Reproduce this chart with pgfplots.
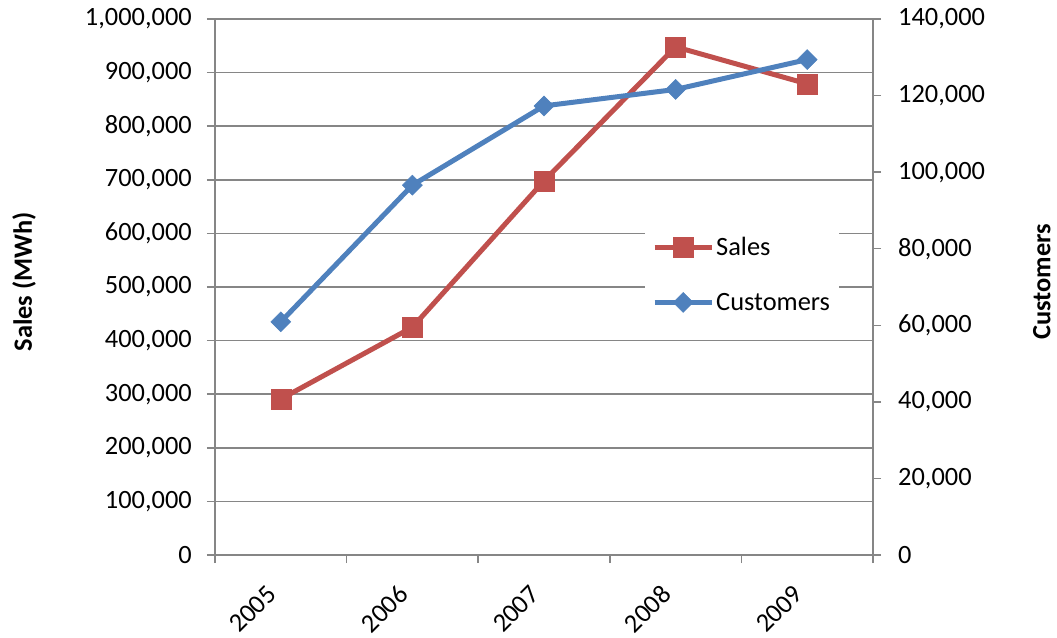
\documentclass[border=0pt]{standalone}
\usepackage{fontspec}
\setmainfont{Carlito}
\usepackage{pgfplots}
\pgfplotsset{compat=1.18}
\definecolor{salesred}{RGB}{192,80,77}
\definecolor{custblue}{RGB}{79,129,189}
\definecolor{gridgray}{RGB}{134,134,134}
\pgfdeclareplotmark{rdiamond}{%
  \pgfpathmoveto{\pgfqpoint{-\pgfplotmarksize}{0pt}}%
  \pgfpathlineto{\pgfqpoint{0pt}{\pgfplotmarksize}}%
  \pgfpathlineto{\pgfqpoint{\pgfplotmarksize}{0pt}}%
  \pgfpathlineto{\pgfqpoint{0pt}{-\pgfplotmarksize}}%
  \pgfpathclose
  \pgfusepathqfillstroke}
\newcommand{\chartfont}{\fontsize{26.4}{32}\selectfont}
\pgfplotsset{
  common/.style={
    width=658pt, height=536pt, scale only axis,
    xmin=0.5, xmax=5.5,
    axis line style={gridgray, line width=1.5pt},
    tick style={gridgray, line width=1.5pt},
    tick align=outside, major tick length=8pt,
    ticklabel style={font=\chartfont},
    label style={font=\chartfont\bfseries},
    scaled y ticks=false,
    yticklabel style={/pgf/number format/fixed, /pgf/number format/1000 sep={,}, /pgf/number format/assume math mode=true},
  },
  salesstyle/.style={salesred, line width=5pt, mark=square*, mark size=10pt,
    mark options={solid, fill=salesred, draw=salesred, line width=0.5pt}},
  custstyle/.style={custblue, line width=5pt, mark=rdiamond, mark size=10pt,
    mark options={solid, fill=custblue, draw=custblue, line width=0.5pt}},
}
\begin{document}
\begin{tikzpicture}
\begin{axis}[common,
  ymin=0, ymax=1000000,
  ytick={0,100000,...,1000000},
  axis y line*=left, axis x line*=bottom,
  ymajorgrids, grid style={gridgray, line width=1.5pt},
  xtick={0.5,1.5,...,5.5}, xticklabels={},
  extra x ticks={1,2,3,4,5},
  extra x tick labels={2005,2006,2007,2008,2009},
  extra x tick style={major tick length=0pt},
  xticklabel style={xshift=-9pt, yshift=-35pt, rotate=45, anchor=east, inner sep=0pt},
  yticklabel style={anchor=east, inner sep=0pt, xshift=-15pt},
  ylabel={Sales (MWh)},
  ylabel style={at={(axis description cs:-0.29,0.51)}, anchor=center},
]
\addplot[salesstyle] coordinates {(1,291000) (2,425000) (3,698000) (4,948000) (5,879000)};
\end{axis}
\begin{axis}[common,
  ymin=0, ymax=140000,
  ytick={0,20000,...,140000},
  axis y line*=right, axis x line=none,
  yticklabel style={anchor=west, inner sep=0pt, xshift=17pt},
  ylabel={Customers},
  ylabel style={at={(axis description cs:1.2567,0.51)}, anchor=center},
  legend style={at={(axis description cs:0.6535,0.5233)}, anchor=west,
    draw=none, fill=white, font=\chartfont, inner xsep=7pt, inner ysep=8pt,
    row sep=32pt},
  legend cell align=left,
  legend image code/.code={\draw[mark repeat=2,mark phase=2,#1] plot coordinates {(0pt,0pt) (28.5pt,0pt) (57pt,0pt)};},
]
\addlegendimage{salesstyle}
\addlegendentry{Sales}
\addplot[custstyle] coordinates {(1,60900) (2,96600) (3,117300) (4,121600) (5,129400)};
\addlegendentry{Customers}
\end{axis}
\pgfresetboundingbox
\path (-215pt,-82pt) rectangle (842pt,555pt);
\end{tikzpicture}
\end{document}
